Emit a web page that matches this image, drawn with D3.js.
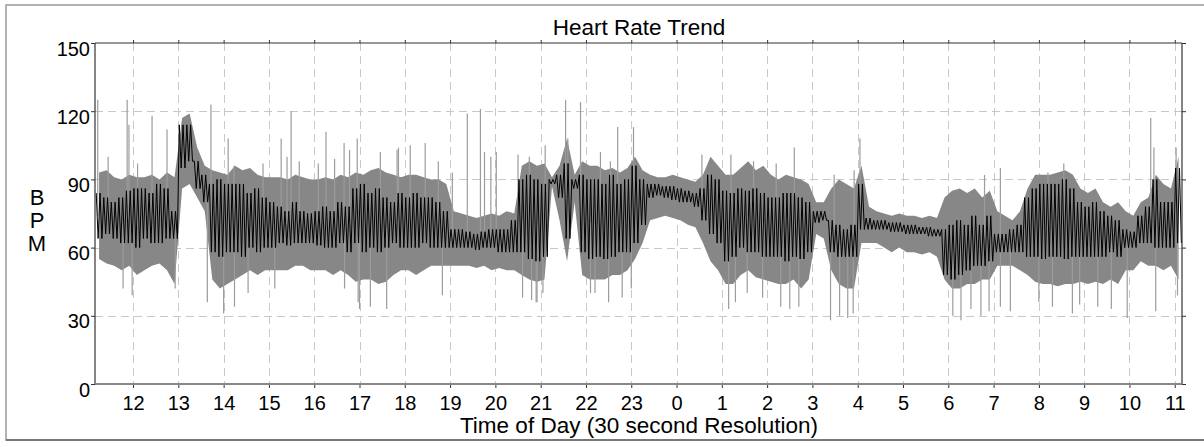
<!DOCTYPE html>
<html>
<head>
<meta charset="utf-8">
<script src="https://cdn.jsdelivr.net/npm/d3@7"></script>
<style>
  body { margin: 0; background: #fff; }
  svg { display: block; font-family: "Liberation Sans", Arial, sans-serif; }
</style>
</head>
<body>
<svg id="chart" width="1204" height="447"></svg>
<script>
// *******************
// data: 10-minute bins starting 11:10, one row per hour
// *******************
const binStart = 11 + 10 / 60;
const binHours = 10 / 60;

// dense gray band (raw beat-to-beat range)
const grayHi = [
  93, 94, 91, 90, 92, 91,
  91, 92, 90, 93, 91, 117,
  119, 104, 96, 94, 93, 92,
  96, 94, 95, 92, 91, 91,
  91, 90, 92, 91, 90, 90,
  91, 90, 92, 91, 93, 92,
  94, 95, 93, 92, 91, 92,
  92, 91, 90, 90, 88, 76,
  75, 74, 73, 74, 75, 74,
  76, 75, 96, 98, 96, 97,
  91, 96, 108, 92, 98, 96,
  96, 94, 95, 93, 95, 100,
  94, 92, 91, 91, 92, 91,
  90, 89, 92, 100, 96, 92,
  92, 95, 98, 94, 96, 92,
  90, 92, 91, 90, 88, 80,
  80, 86, 90, 88, 86, 96,
  78, 76, 75, 74, 75, 74,
  74, 73, 74, 73, 82, 85,
  86, 84, 86, 82, 85, 76,
  74, 72, 76, 86, 92, 92,
  92, 93, 94, 92, 86, 84,
  86, 80, 78, 80, 76, 74,
  80, 82, 92, 88, 86, 100
];
const grayLo = [
  55, 53, 52, 50, 52, 48,
  50, 52, 53, 50, 44, 86,
  88, 82, 76, 46, 42, 44,
  46, 48, 50, 48, 50, 50,
  50, 50, 52, 52, 50, 50,
  50, 48, 50, 48, 45, 46,
  46, 44, 45, 48, 50, 50,
  48, 50, 52, 52, 52, 52,
  52, 52, 51, 52, 50, 51,
  50, 50, 48, 46, 45, 46,
  87, 72, 54, 80, 48, 46,
  46, 46, 48, 48, 50, 55,
  62, 72, 73, 74, 73, 72,
  70, 69, 62, 54, 50, 44,
  44, 48, 50, 47, 46, 45,
  44, 44, 46, 42, 46, 66,
  64, 50, 44, 42, 42, 62,
  62, 62, 60, 58, 60, 58,
  58, 57, 58, 56, 46, 42,
  42, 44, 44, 46, 46, 52,
  52, 52, 50, 48, 45, 44,
  44, 43, 44, 44, 45, 44,
  45, 44, 46, 44, 50, 50,
  54, 52, 52, 50, 52, 46
];

// black trace (30 s mean) range inside each bin
const blackHi = [
  84, 82, 80, 82, 85, 86,
  86, 84, 88, 86, 76, 114,
  114, 98, 92, 88, 90, 88,
  88, 88, 84, 86, 82, 80,
  78, 76, 80, 76, 75, 76,
  78, 76, 80, 78, 86, 88,
  84, 86, 82, 80, 84, 82,
  84, 82, 82, 80, 76, 68,
  68, 67, 66, 67, 68, 68,
  68, 72, 90, 92, 90, 88,
  90, 92, 97, 90, 92, 90,
  90, 88, 92, 88, 90, 96,
  90, 88, 88, 87, 87, 86,
  85, 84, 86, 92, 90, 85,
  84, 86, 85, 86, 84, 82,
  82, 84, 84, 82, 80, 76,
  76, 72, 70, 68, 70, 88,
  73, 72, 72, 71, 71, 70,
  70, 69, 69, 68, 68, 70,
  72, 70, 74, 70, 74, 66,
  66, 68, 70, 82, 86, 88,
  88, 88, 90, 86, 80, 78,
  80, 76, 74, 72, 68, 67,
  74, 78, 90, 80, 80, 95
];
const blackLo = [
  64, 66, 64, 62, 62, 60,
  64, 62, 62, 64, 64, 95,
  98, 86, 80, 58, 56, 58,
  58, 56, 60, 58, 60, 60,
  62, 61, 62, 62, 62, 61,
  60, 60, 62, 58, 62, 58,
  60, 58, 60, 62, 60, 60,
  60, 62, 60, 60, 60, 60,
  60, 60, 59, 60, 60, 58,
  58, 58, 58, 55, 54, 56,
  88, 82, 64, 86, 58, 55,
  56, 55, 56, 58, 58, 62,
  70, 82, 83, 82, 81, 80,
  80, 78, 72, 66, 62, 54,
  56, 60, 58, 58, 56, 56,
  56, 54, 56, 55, 58, 71,
  72, 58, 56, 56, 56, 68,
  68, 68, 68, 67, 67, 66,
  66, 66, 65, 65, 48, 46,
  48, 50, 52, 52, 54, 58,
  58, 58, 58, 56, 56, 55,
  56, 56, 55, 56, 56, 56,
  56, 56, 58, 56, 60, 60,
  62, 62, 60, 60, 60, 62
];

// isolated spikes [hour of day (past midnight continues 24+), bpm]
const spikesUp = [
  [11.22, 125], [11.45, 100], [11.87, 125], [11.91, 114], [12.1, 97], [12.42, 118],
  [12.75, 112], [13.72, 123], [14.1, 108], [14.23, 96], [14.87, 97], [15.27, 108],
  [15.4, 100], [15.49, 120], [15.67, 98], [16.09, 97], [16.26, 111], [16.45, 99],
  [16.66, 106], [16.78, 103], [16.95, 108], [17.46, 102], [17.83, 103], [17.86, 104],
  [18.12, 105], [18.45, 106], [18.74, 98], [19.05, 93], [19.38, 119], [19.67, 121],
  [19.76, 102], [19.9, 100], [20.02, 102], [20.5, 101], [20.75, 100], [21.1, 105],
  [21.55, 125], [21.6, 108], [21.88, 124], [22.32, 102], [22.54, 98], [22.7, 113],
  [23.05, 113], [24.56, 101], [25.2, 101], [25.7, 98], [26.2, 97], [26.6, 104],
  [27.48, 92], [27.92, 94], [28.05, 108], [30.8, 92], [31.15, 95], [32.2, 93],
  [32.55, 97], [34.47, 117], [34.54, 104], [35.03, 104]
];
const spikesDown = [
  [11.78, 42], [11.98, 39], [12.93, 42], [13.64, 36], [14.0, 31], [14.24, 34],
  [14.54, 40], [15.13, 42], [16.67, 42], [16.97, 36], [17.0, 33], [17.24, 34],
  [17.6, 33], [18.83, 39], [20.6, 38], [20.8, 37], [20.9, 36], [20.92, 36],
  [21.05, 40], [22.1, 40], [22.2, 40], [22.5, 36], [22.8, 38], [23.0, 42],
  [25.15, 33], [25.3, 36], [25.56, 40], [25.9, 38], [26.3, 34], [26.5, 33],
  [26.7, 34], [27.4, 28], [27.6, 30], [27.78, 29], [27.9, 31], [30.1, 30],
  [30.28, 28], [30.5, 33], [30.72, 30], [30.9, 32], [31.15, 34], [31.37, 32],
  [32.0, 36], [32.3, 34], [32.74, 31], [32.9, 35], [33.3, 34], [33.6, 33],
  [33.95, 29], [34.58, 32], [35.06, 39]
];

const hourTicks = [12, 13, 14, 15, 16, 17, 18, 19, 20, 21, 22, 23,
                   24, 25, 26, 27, 28, 29, 30, 31, 32, 33, 34, 35];
const hourLabels = ["12", "13", "14", "15", "16", "17", "18", "19", "20", "21", "22", "23",
                    "0", "1", "2", "3", "4", "5", "6", "7", "8", "9", "10", "11"];
const bpmTicks = [0, 30, 60, 90, 120, 150];

// *******************
// layout
// *******************
const svg = d3.select("#chart");
const PLOT = { LEFT: 95, RIGHT: 1182, TOP: 43, BOTTOM: 384 };

const x = d3.scaleLinear().domain([11.16, 35.16]).range([PLOT.LEFT, PLOT.RIGHT]);
const y = d3.scaleLinear().domain([0, 150]).range([PLOT.BOTTOM, PLOT.TOP]);

// outer frame
svg.append("rect")
  .attr("x", 6).attr("y", 5)
  .attr("width", 1204).attr("height", 435)
  .attr("fill", "none")
  .attr("stroke", "#9a9a9a")
  .attr("stroke-width", 1.5);
svg.append("line")
  .attr("x1", 6).attr("x2", 1204)
  .attr("y1", 440).attr("y2", 440)
  .attr("stroke", "#666").attr("stroke-width", 1.5);

// dashed grid
const grid = svg.append("g").attr("stroke", "#c8c8c8").attr("stroke-dasharray", "8,5");
grid.selectAll("line.v").data(hourTicks).join("line")
  .attr("class", "v")
  .attr("x1", (d) => Math.round(x(d)) + 0.5).attr("x2", (d) => Math.round(x(d)) + 0.5)
  .attr("y1", PLOT.TOP).attr("y2", PLOT.BOTTOM);
grid.selectAll("line.h").data(bpmTicks.slice(1, -1)).join("line")
  .attr("class", "h")
  .attr("x1", PLOT.LEFT).attr("x2", PLOT.RIGHT)
  .attr("y1", (d) => Math.round(y(d)) + 0.5).attr("y2", (d) => Math.round(y(d)) + 0.5);

// bins
const bins = grayHi.map((hi, i) => ({
  t: binStart + i * binHours,
  grayHi: hi,
  grayLo: grayLo[i],
  blackHi: blackHi[i],
  blackLo: blackLo[i],
}));

const plot = svg.append("g");

// gray band
const grayArea = d3.area()
  .x((d) => x(d.t + binHours / 2))
  .y0((d) => y(d.grayLo))
  .y1((d) => y(d.grayHi));
plot.append("path")
  .datum(bins)
  .attr("d", grayArea)
  .attr("fill", "#878787");

// isolated spikes, drawn from the middle of the band
function bandMid(t) {
  const i = Math.max(0, Math.min(bins.length - 1, Math.floor((t - binStart) / binHours)));
  return (bins[i].grayHi + bins[i].grayLo) / 2;
}
plot.selectAll("line.spike")
  .data(spikesUp.concat(spikesDown))
  .join("line")
  .attr("class", "spike")
  .attr("x1", (d) => x(d[0])).attr("x2", (d) => x(d[0]))
  .attr("y1", (d) => y(bandMid(d[0])))
  .attr("y2", (d) => y(d[1]))
  .attr("stroke", "#9c9c9c")
  .attr("stroke-width", 1.2);

// black trace: min/max of each bin drawn as a zigzag
const blackPts = [];
bins.forEach((d) => {
  blackPts.push([d.t + binHours * 0.125, d.blackHi]);
  blackPts.push([d.t + binHours * 0.375, d.blackLo]);
  blackPts.push([d.t + binHours * 0.625, d.blackHi]);
  blackPts.push([d.t + binHours * 0.875, d.blackLo]);
});
plot.append("path")
  .datum(blackPts)
  .attr("d", d3.line().x((d) => x(d[0])).y((d) => y(d[1])))
  .attr("fill", "none")
  .attr("stroke", "#000")
  .attr("stroke-width", 1);

// *******************
// axes
// *******************
function styleAxis(g) {
  g.select(".domain").remove();
  g.selectAll(".tick line").attr("stroke", "#333");
  g.selectAll("text").attr("fill", "#000").style("font-size", "20px")
    .style("font-family", '"Liberation Sans", Arial, sans-serif');
}

svg.append("g")
  .attr("transform", `translate(${PLOT.LEFT},0)`)
  .call(d3.axisLeft(y).tickValues(bpmTicks).tickSize(4).tickPadding(1))
  .call(styleAxis)
  .call((g) => g.selectAll("text").attr("dy", "0.6em"));

svg.append("g")
  .attr("transform", `translate(0,${PLOT.BOTTOM})`)
  .call(d3.axisBottom(x).tickValues(hourTicks).tickSize(4)
    .tickPadding(8).tickFormat((d, i) => hourLabels[i]))
  .call(styleAxis);

svg.append("g")
  .attr("transform", `translate(0,${PLOT.TOP})`)
  .call(d3.axisTop(x).tickValues(hourTicks).tickSize(3).tickFormat(""))
  .call(styleAxis);

svg.append("g")
  .attr("transform", `translate(${PLOT.RIGHT},0)`)
  .call(d3.axisRight(y).tickValues(bpmTicks).tickSize(4).tickFormat(""))
  .call(styleAxis);

// plot frame
svg.append("line").attr("x1", PLOT.LEFT).attr("x2", PLOT.RIGHT)
  .attr("y1", PLOT.TOP).attr("y2", PLOT.TOP).attr("stroke", "#333").attr("stroke-width", 1.2);
svg.append("line").attr("x1", PLOT.LEFT).attr("x2", PLOT.LEFT)
  .attr("y1", PLOT.TOP).attr("y2", PLOT.BOTTOM).attr("stroke", "#333").attr("stroke-width", 1.2);
svg.append("line").attr("x1", PLOT.RIGHT).attr("x2", PLOT.RIGHT)
  .attr("y1", PLOT.TOP).attr("y2", PLOT.BOTTOM).attr("stroke", "#333").attr("stroke-width", 1.2);
svg.append("line").attr("x1", PLOT.LEFT).attr("x2", PLOT.RIGHT)
  .attr("y1", PLOT.BOTTOM).attr("y2", PLOT.BOTTOM).attr("stroke", "#888").attr("stroke-width", 2);

// titles
svg.append("text")
  .attr("x", 639).attr("y", 35)
  .attr("text-anchor", "middle")
  .style("font-size", "22.5px")
  .text("Heart Rate Trend");

svg.append("text")
  .attr("x", 639).attr("y", 433)
  .attr("text-anchor", "middle")
  .style("font-size", "22.5px")
  .text("Time of Day (30 second Resolution)");

svg.append("text")
  .attr("x", 37).attr("text-anchor", "middle")
  .style("font-size", "22px")
  .selectAll("tspan")
  .data(["B", "P", "M"])
  .join("tspan")
  .attr("x", 37)
  .attr("y", (d, i) => 205 + i * 23)
  .text((d) => d);
</script>
</body>
</html>
